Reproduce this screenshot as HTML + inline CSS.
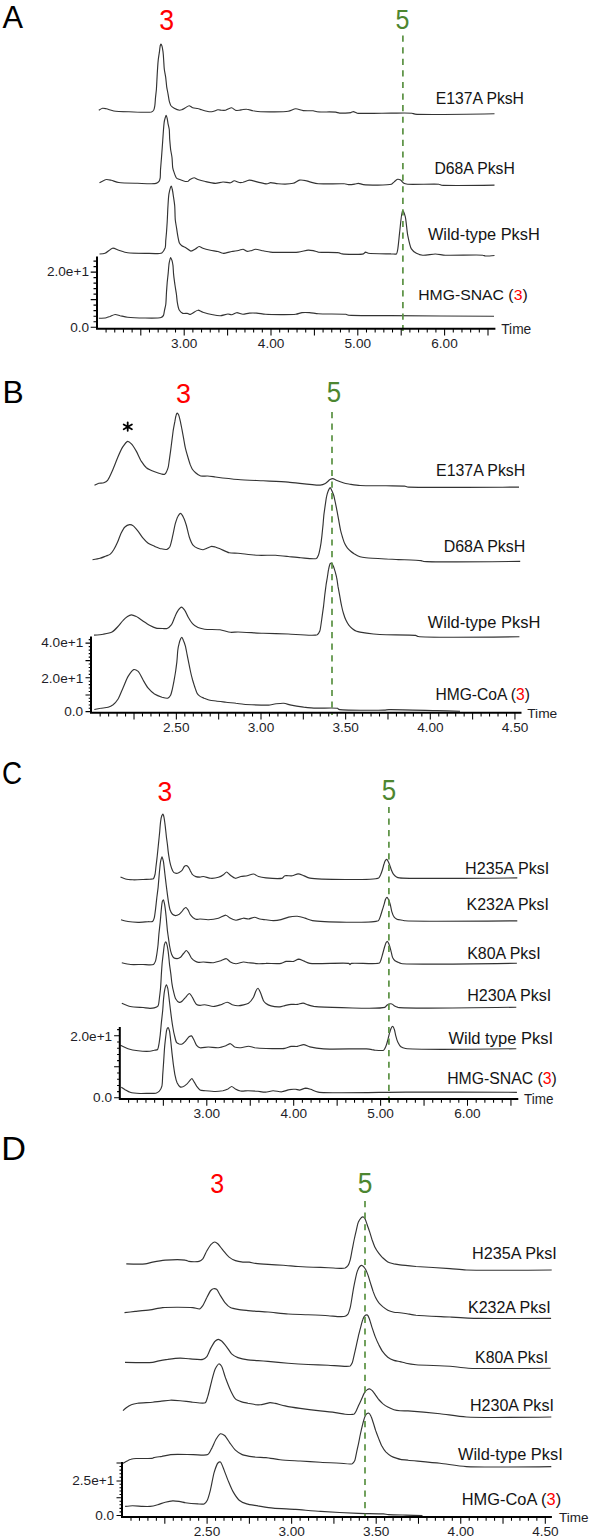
<!DOCTYPE html>
<html><head><meta charset="utf-8"><style>
html,body{margin:0;padding:0;background:#fff;}
body{width:590px;height:1538px;overflow:hidden;}
svg{display:block;font-family:"Liberation Sans",sans-serif;}
</style></head><body>
<svg width="590" height="1538" viewBox="0 0 590 1538">
<path d="M98.8 110.3C98.8 110.3 101.6 108.5 102.5 108.3C103.4 108.1 105.3 108.6 106.3 108.8C107.8 109.1 111.7 110.6 113.8 111.0C116.7 111.5 125.0 111.7 128.9 111.8C133.6 111.9 149.0 112.8 151.4 112.0C152.2 111.7 153.1 111.0 153.5 110.5C154.0 109.8 154.6 107.1 154.8 105.8C155.1 104.2 155.3 99.6 155.5 97.7C155.7 95.8 156.2 91.7 156.4 89.5C156.6 86.5 157.0 78.0 157.2 74.6C157.4 71.2 157.9 63.3 158.2 60.4C158.4 58.2 159.1 54.0 159.4 52.2C159.6 50.6 160.0 46.5 160.3 45.5C160.4 45.0 160.7 44.1 160.9 44.1C161.1 44.1 161.8 45.5 162.0 46.1C162.3 47.0 162.8 50.2 163.0 51.6C163.2 53.2 163.5 57.1 163.6 59.0C163.8 61.2 164.0 67.0 164.3 69.2C164.5 71.2 165.4 75.3 165.7 77.3C166.0 79.4 166.4 84.7 166.7 86.8C167.0 88.7 167.8 92.6 168.1 94.3C168.4 96.0 169.0 100.3 169.4 101.7C169.7 102.7 170.3 104.8 170.8 105.5C171.4 106.3 173.3 107.7 174.2 108.2C175.3 108.8 178.6 110.1 179.6 110.2C180.2 110.2 181.1 110.0 181.6 109.8C182.3 109.5 184.4 108.3 185.3 107.8C186.2 107.3 188.2 105.7 189.1 105.7C190.0 105.7 191.8 107.5 192.8 107.8C193.9 108.2 196.8 108.2 197.9 108.5C198.8 108.7 200.6 109.5 201.6 109.8C202.9 110.2 206.5 111.3 207.9 111.5C209.1 111.7 211.7 111.7 212.9 111.5C214.1 111.3 216.8 109.9 217.9 109.8C218.8 109.7 220.8 110.2 221.7 110.3C222.6 110.4 224.7 110.5 225.5 110.3C226.2 110.1 227.3 109.3 228.0 109.0C228.8 108.7 230.9 107.7 231.7 107.8C232.6 107.9 234.6 110.0 235.5 110.3C236.4 110.6 238.4 110.4 239.3 110.3C240.2 110.2 242.1 109.6 243.0 109.5C243.9 109.4 245.8 109.2 246.8 109.3C248.1 109.4 251.5 110.5 253.0 110.8C254.7 111.1 258.3 111.7 260.6 111.8C265.0 112.0 283.8 112.1 288.2 111.3C290.5 110.9 293.9 108.9 295.7 108.8C297.4 108.7 301.3 110.4 303.2 110.6C305.4 110.9 311.4 110.6 313.2 110.8C314.3 111.0 315.8 111.6 317.0 111.8C319.7 112.2 333.1 111.7 335.8 112.1C337.0 112.3 338.5 113.0 339.6 113.1C341.5 113.3 349.2 113.0 350.9 112.6C351.7 112.4 352.8 111.6 353.4 111.6C354.2 111.6 355.8 112.8 357.1 113.1C361.0 113.9 384.0 113.1 391.0 113.1C396.5 113.1 409.3 112.8 412.0 113.2C413.0 113.4 413.8 113.9 415.0 114.1C421.0 115.0 494.5 113.8 494.5 113.8" fill="none" stroke="#333333" stroke-width="1.15" stroke-linejoin="round"/>
<path d="M99.5 182.8C99.5 182.8 104.8 179.7 106.3 179.5C107.5 179.3 110.0 180.0 111.3 180.3C112.9 180.7 116.6 182.1 118.8 182.5C122.2 183.1 133.2 183.2 137.6 183.3C141.9 183.4 153.7 184.2 156.1 183.4C157.2 183.1 158.7 181.9 159.2 181.2C159.7 180.6 160.0 178.8 160.2 177.8C160.4 176.3 160.4 171.8 160.5 169.7C160.7 167.1 161.3 160.2 161.5 157.5C161.7 155.1 162.0 150.4 162.2 148.0C162.4 145.0 163.0 136.9 163.2 133.7C163.4 130.9 163.9 124.3 164.2 122.2C164.4 120.9 165.0 118.4 165.3 117.5C165.5 116.9 165.9 115.3 166.1 115.3C166.3 115.3 166.9 117.3 167.1 118.1C167.4 119.2 167.8 122.3 168.0 123.6C168.3 125.0 169.1 128.1 169.3 129.7C169.5 131.7 169.5 136.9 169.7 139.2C169.9 141.6 170.4 147.7 170.7 150.0C171.0 151.9 171.8 155.6 172.0 157.5C172.3 159.7 172.4 165.7 172.7 167.6C172.9 168.9 173.7 171.3 174.1 172.4C174.5 173.6 175.6 176.8 176.1 177.5C176.3 177.9 176.8 178.3 177.1 178.5C177.6 178.8 179.6 179.5 180.5 179.8C181.5 180.2 184.3 181.4 185.3 181.5C186.0 181.6 187.4 181.4 188.0 181.2C188.5 181.0 189.4 179.9 190.0 179.5C190.8 179.0 193.2 177.7 194.1 177.7C195.0 177.7 196.8 179.1 197.9 179.5C199.3 180.0 203.5 181.1 205.4 181.5C207.6 182.0 213.2 183.3 215.4 183.3C217.3 183.3 221.2 182.1 223.0 182.0C224.8 181.9 229.1 183.1 230.5 182.8C231.6 182.6 233.2 180.9 234.2 180.8C235.3 180.7 238.2 182.4 239.3 182.5C240.2 182.6 242.0 182.5 243.0 182.3C244.3 182.0 247.7 180.2 249.3 180.1C251.2 180.0 256.0 181.7 258.0 182.1C260.0 182.5 265.2 183.9 266.8 183.8C267.9 183.7 269.6 182.7 270.6 182.6C272.0 182.5 276.0 183.7 278.1 183.8C281.0 184.0 290.5 184.0 293.2 183.3C295.0 182.8 297.9 180.4 299.4 180.1C300.8 179.8 304.3 180.3 305.7 180.6C306.9 180.8 309.4 181.8 310.7 182.1C312.3 182.5 316.0 183.5 318.3 183.8C322.6 184.3 341.2 183.4 344.6 183.8C345.9 183.9 347.4 184.5 348.4 184.6C349.7 184.7 353.3 184.3 354.6 184.1C355.6 184.0 357.5 183.3 358.4 183.3C359.5 183.3 361.7 184.4 363.4 184.6C367.3 185.1 388.5 185.4 391.4 184.3C392.4 183.9 393.2 182.6 393.9 182.1C394.7 181.5 396.7 179.5 397.6 179.3C398.3 179.2 399.9 179.7 400.6 180.1C401.4 180.6 403.0 182.8 403.9 183.3C404.7 183.8 406.4 184.1 407.7 184.3C411.5 184.8 435.8 183.8 439.0 184.3C439.9 184.4 440.5 184.9 441.5 185.1C445.9 185.8 494.5 185.1 494.5 185.1" fill="none" stroke="#333333" stroke-width="1.15" stroke-linejoin="round"/>
<path d="M99.5 254.0C99.5 254.0 103.7 253.8 105.0 253.3C106.7 252.7 110.9 248.4 112.6 248.2C114.1 248.0 117.2 249.7 118.8 250.2C120.7 250.8 125.2 252.4 127.6 252.8C131.0 253.3 141.2 253.3 145.2 253.3C149.1 253.3 159.5 254.2 161.8 252.9C163.2 252.1 164.7 249.1 165.2 247.8C165.7 246.4 165.6 242.7 165.7 241.0C165.9 239.1 166.3 234.3 166.5 232.2C166.7 229.9 167.0 224.6 167.2 222.0C167.4 218.9 167.7 210.4 167.9 207.1C168.1 204.0 168.5 196.6 168.9 194.2C169.2 192.5 169.9 189.1 170.3 188.1C170.5 187.5 171.1 186.1 171.3 186.1C171.6 186.1 172.1 188.6 172.3 189.5C172.6 190.7 173.1 194.0 173.3 195.6C173.6 197.7 174.5 203.2 174.7 205.8C175.0 208.8 175.0 217.1 175.3 220.0C175.5 222.3 176.4 226.7 176.7 228.8C177.0 230.9 177.7 235.8 178.1 237.6C178.4 239.0 178.9 242.1 179.4 243.1C179.8 243.9 181.1 245.3 181.8 245.8C182.5 246.3 184.6 247.0 185.5 247.5C186.7 248.2 189.7 251.0 190.9 251.1C192.0 251.2 194.4 249.6 195.4 249.0C196.3 248.5 198.2 246.6 199.1 246.5C200.0 246.4 201.8 247.8 202.9 248.2C204.3 248.7 208.6 249.8 210.4 250.2C212.1 250.6 216.3 251.1 217.9 251.5C219.2 251.8 221.6 253.2 223.0 253.3C224.7 253.4 229.7 251.9 231.7 251.5C233.5 251.2 237.8 250.5 239.3 250.2C240.3 250.0 242.2 249.2 243.0 249.3C243.9 249.4 245.9 251.1 246.8 251.3C247.6 251.4 249.6 251.0 250.5 250.8C251.6 250.6 254.2 249.4 255.5 249.3C257.1 249.2 261.3 250.5 263.1 250.8C264.9 251.1 268.3 251.9 270.6 252.1C275.0 252.5 293.4 252.6 298.2 252.1C301.1 251.8 306.3 250.2 308.2 250.1C309.6 250.0 312.0 250.4 313.2 250.6C314.4 250.8 316.7 251.8 318.3 252.1C321.4 252.6 335.5 252.1 338.3 252.6C339.6 252.8 340.8 253.7 342.1 253.9C345.0 254.4 361.1 254.8 363.4 253.9C364.2 253.6 364.9 252.2 365.4 252.1C366.0 252.0 367.3 253.1 368.4 253.3C371.2 253.9 387.5 253.8 391.0 253.9C392.7 253.9 395.6 254.5 396.4 254.0C397.1 253.5 397.3 251.4 397.6 250.2C398.2 247.6 399.1 236.9 399.6 232.6C400.2 227.7 401.6 210.7 402.6 210.6C403.1 210.5 404.7 214.5 405.2 216.3C406.1 219.4 406.9 231.1 407.7 235.1C408.4 238.6 410.0 246.7 411.4 248.9C412.3 250.4 415.1 252.5 416.4 253.2C417.7 253.9 421.0 255.0 422.7 255.2C425.1 255.5 432.5 254.0 435.3 254.0C437.8 254.0 442.2 255.0 445.3 255.2C451.3 255.6 479.3 254.6 482.9 255.2C483.8 255.3 484.6 255.9 485.4 256.0C486.8 256.2 494.5 255.5 494.5 255.5" fill="none" stroke="#333333" stroke-width="1.15" stroke-linejoin="round"/>
<path d="M98.8 318.2C98.8 318.2 104.9 318.0 106.3 317.7C107.3 317.5 109.1 316.8 110.0 316.5C111.1 316.1 113.9 314.6 115.1 314.5C116.3 314.4 118.8 315.4 120.1 315.7C121.7 316.0 125.2 317.0 127.6 317.2C132.6 317.7 157.9 318.7 161.1 317.5C162.1 317.1 163.1 316.1 163.5 315.4C164.0 314.5 164.2 311.5 164.5 310.3C164.8 308.9 165.6 305.9 165.8 304.2C166.1 301.9 166.3 294.7 166.5 292.0C166.7 289.6 167.0 284.7 167.2 282.5C167.4 280.3 168.0 275.3 168.2 273.1C168.4 270.8 168.8 264.9 169.2 262.9C169.5 261.4 170.2 257.5 170.6 257.5C170.9 257.5 171.6 259.4 171.9 260.2C172.2 261.2 172.8 264.2 173.0 265.6C173.2 267.4 173.4 272.2 173.6 274.4C173.8 276.8 174.7 282.9 175.0 285.3C175.3 287.5 176.1 292.0 176.4 294.1C176.7 296.2 177.0 300.9 177.4 302.9C177.7 304.7 178.6 309.0 179.4 310.3C180.0 311.3 181.9 313.0 182.8 313.4C183.7 313.8 186.6 313.2 187.5 313.4C188.3 313.5 189.6 314.5 190.3 314.4C191.1 314.3 193.2 312.7 194.1 312.2C195.0 311.7 196.9 310.2 197.9 310.2C199.0 310.1 201.5 311.8 202.9 312.2C204.8 312.8 210.7 314.3 212.9 314.7C214.8 315.1 218.7 315.8 220.4 315.7C222.2 315.6 226.5 314.0 228.0 314.0C229.0 314.0 230.8 314.8 231.7 314.7C232.8 314.6 235.5 312.8 236.7 312.7C238.1 312.6 241.5 314.2 243.0 314.2C244.5 314.2 247.8 313.2 249.3 313.1C251.0 313.0 255.0 313.0 256.8 313.1C258.8 313.2 262.9 314.1 265.6 314.3C270.5 314.6 291.3 314.9 295.7 314.3C297.7 314.0 300.5 312.8 302.0 312.6C303.7 312.4 307.7 312.5 309.5 312.6C311.5 312.7 315.7 313.6 318.3 313.8C322.9 314.2 342.9 313.8 345.9 314.3C346.8 314.5 347.4 314.9 348.4 315.1C352.3 315.7 378.9 315.5 391.0 315.6C409.8 315.8 494.0 316.3 494.0 316.3" fill="none" stroke="#333333" stroke-width="1.15" stroke-linejoin="round"/>
<line x1="402.9" y1="35.6" x2="402.9" y2="331.0" stroke="#5a9142" stroke-width="1.7" stroke-dasharray="6.2 5.38"/>
<path d="M106.08 328.8V332.6M114.76 328.8V332.6M123.44 328.8V332.6M132.12 328.8V332.6M140.80 328.8V335.6M149.48 328.8V332.6M158.16 328.8V332.6M166.84 328.8V332.6M175.52 328.8V332.6M184.20 328.8V335.6M192.88 328.8V332.6M201.56 328.8V332.6M210.24 328.8V332.6M218.92 328.8V332.6M227.60 328.8V335.6M236.28 328.8V332.6M244.96 328.8V332.6M253.64 328.8V332.6M262.32 328.8V332.6M271.00 328.8V335.6M279.68 328.8V332.6M288.36 328.8V332.6M297.04 328.8V332.6M305.72 328.8V332.6M314.40 328.8V335.6M323.08 328.8V332.6M331.76 328.8V332.6M340.44 328.8V332.6M349.12 328.8V332.6M357.80 328.8V335.6M366.48 328.8V332.6M375.16 328.8V332.6M383.84 328.8V332.6M392.52 328.8V332.6M401.20 328.8V335.6M409.88 328.8V332.6M418.56 328.8V332.6M427.24 328.8V332.6M435.92 328.8V332.6M444.60 328.8V335.6M453.28 328.8V332.6M461.96 328.8V332.6M470.64 328.8V332.6M479.32 328.8V332.6M488.00 328.8V335.6M97.0 272.10H90.7M97.0 299.60H90.7M97.0 327.20H90.7M97.0 277.60H93.5M97.0 283.10H93.5M97.0 288.60H93.5M97.0 294.10H93.5M97.0 305.12H93.5M97.0 310.64H93.5M97.0 316.16H93.5M97.0 321.68H93.5M97.0 266.60H93.5M97.0 261.10H93.5" stroke="#000" stroke-width="1.05" fill="none"/>
<path d="M97.0 256.5V328.8H495.4" stroke="#000" stroke-width="2.00" fill="none"/>
<text x="46.93" y="276.25" font-size="13.62" fill="#1e1e28" textLength="42.04" lengthAdjust="spacingAndGlyphs">2.0e+1</text>
<text x="70.18" y="331.75" font-size="13.62" fill="#1e1e28" textLength="18.93" lengthAdjust="spacingAndGlyphs">0.0</text>
<text x="170.95" y="348.15" font-size="13.62" fill="#1e1e28" textLength="26.51" lengthAdjust="spacingAndGlyphs">3.00</text>
<text x="257.86" y="348.15" font-size="13.62" fill="#1e1e28" textLength="26.51" lengthAdjust="spacingAndGlyphs">4.00</text>
<text x="344.54" y="348.15" font-size="13.62" fill="#1e1e28" textLength="26.51" lengthAdjust="spacingAndGlyphs">5.00</text>
<text x="431.27" y="348.15" font-size="13.62" fill="#1e1e28" textLength="26.51" lengthAdjust="spacingAndGlyphs">6.00</text>
<text x="501.19" y="333.80" font-size="13.93" fill="#1e1e28" textLength="30.10" lengthAdjust="spacingAndGlyphs">Time</text>
<text x="2.42" y="28.00" font-size="31.85" fill="#000" textLength="20.54" lengthAdjust="spacingAndGlyphs">A</text>
<text x="159.20" y="29.60" font-size="28.67" fill="#ff0000" textLength="14.87" lengthAdjust="spacingAndGlyphs">3</text>
<text x="395.50" y="29.20" font-size="28.51" fill="#4d8630" textLength="13.93" lengthAdjust="spacingAndGlyphs">5</text>
<text x="435.70" y="104.20" font-size="16.14" fill="#141414" textLength="88.28" lengthAdjust="spacingAndGlyphs">E137A PksH</text>
<text x="434.40" y="174.00" font-size="16.14" fill="#141414" textLength="80.41" lengthAdjust="spacingAndGlyphs">D68A PksH</text>
<text x="427.92" y="240.00" font-size="15.59" fill="#141414" textLength="111.83" lengthAdjust="spacingAndGlyphs">Wild-type PksH</text>
<text x="418.20" y="300.30" font-size="15.17" fill="#141414" textLength="109.48" lengthAdjust="spacingAndGlyphs">HMG-SNAC (<tspan fill="#ff0000">3</tspan>)</text>
<path d="M94.5 485.3C94.5 485.3 97.7 483.6 98.8 483.3C99.9 483.0 102.8 483.2 103.8 482.8C104.8 482.4 106.8 481.2 107.6 480.3C108.9 478.8 111.5 472.7 112.6 470.2C113.8 467.5 116.4 460.5 117.6 457.7C118.7 455.1 121.3 449.1 122.6 447.1C123.7 445.5 126.4 441.6 127.6 441.4C128.5 441.3 130.5 443.0 131.4 443.9C132.6 445.1 135.3 449.5 136.4 451.4C137.6 453.5 140.1 459.4 141.4 461.4C142.5 463.1 145.0 466.5 146.4 467.7C147.9 468.9 152.2 470.8 154.0 471.5C155.7 472.2 160.1 473.7 161.5 474.0C162.4 474.2 164.0 474.7 164.7 474.3C165.7 473.8 167.6 469.3 168.1 467.7C168.6 466.0 169.0 462.0 169.3 460.1C169.6 458.0 170.3 453.0 170.6 450.8C170.9 448.5 171.6 442.9 171.9 440.6C172.2 438.4 172.8 433.5 173.1 431.3C173.4 429.1 174.4 423.9 174.8 421.9C175.1 420.2 175.7 416.3 176.1 415.2C176.3 414.6 176.9 413.1 177.2 413.1C177.5 413.1 178.3 414.2 178.6 414.7C179.1 415.7 179.9 419.5 180.3 421.1C180.7 422.9 181.6 427.6 182.0 429.6C182.4 431.7 183.3 436.7 183.7 438.9C184.1 441.1 184.9 446.0 185.4 448.2C185.9 450.4 187.4 455.5 188.0 457.5C188.5 459.2 189.6 462.9 190.1 464.3C190.6 465.5 191.6 468.0 192.2 469.0C192.8 470.0 194.7 472.0 195.6 472.8C196.6 473.7 199.4 475.6 200.7 476.0C202.1 476.4 205.9 475.9 207.5 476.0C209.3 476.1 213.1 476.7 215.4 477.0C219.3 477.5 232.6 479.1 238.0 479.5C243.7 480.0 257.2 480.5 263.1 480.8C269.0 481.1 282.0 481.6 288.2 482.1C295.2 482.6 316.0 485.6 320.2 485.1C321.9 484.9 324.2 484.0 325.3 483.4C326.5 482.8 329.0 480.2 330.0 479.6C330.7 479.2 332.1 478.6 332.8 478.6C333.6 478.6 335.3 479.8 336.3 480.2C337.7 480.8 342.2 482.5 343.9 483.0C345.3 483.4 348.2 483.9 349.8 484.2C351.9 484.5 357.1 485.3 360.0 485.5C364.7 485.8 380.4 485.7 386.0 485.8C390.7 485.9 402.5 485.7 404.8 486.1C405.7 486.2 406.3 486.7 407.3 486.9C414.1 488.0 519.0 487.1 519.0 487.1" fill="none" stroke="#333333" stroke-width="1.15" stroke-linejoin="round"/>
<path d="M92.5 559.8C92.5 559.8 98.4 558.8 100.0 558.3C101.5 557.9 104.7 556.5 106.0 556.0C107.0 555.6 109.2 555.0 110.0 554.4C111.0 553.7 112.9 551.0 113.7 549.7C114.7 548.2 116.7 544.1 117.5 542.3C118.4 540.3 120.2 534.9 121.2 533.0C122.0 531.4 123.8 528.0 124.9 527.0C125.8 526.1 128.6 524.7 129.6 524.6C130.5 524.5 132.5 525.3 133.3 525.9C134.4 526.7 136.9 529.8 138.0 531.1C139.1 532.5 141.4 536.2 142.6 537.6C143.8 539.0 146.8 542.2 148.2 543.2C149.6 544.2 153.2 545.7 154.7 546.4C156.2 547.0 159.8 548.5 161.3 548.8C162.6 549.1 165.9 549.7 166.9 549.4C167.7 549.1 169.1 547.9 169.7 547.0C170.6 545.5 171.9 539.3 172.5 536.7C173.2 533.8 174.6 526.2 175.3 523.6C175.9 521.6 177.2 517.5 178.0 516.2C178.5 515.3 179.9 513.4 180.5 513.4C181.2 513.4 183.0 516.5 183.6 517.7C184.4 519.2 185.8 523.5 186.4 525.5C187.1 527.9 188.4 534.3 189.2 536.7C189.9 538.8 191.8 543.7 193.0 545.1C193.9 546.2 196.4 547.8 197.6 548.3C198.8 548.8 202.0 549.8 203.2 549.7C204.2 549.6 206.0 548.7 206.9 548.3C207.9 547.9 210.6 546.5 211.6 546.4C212.5 546.3 214.4 546.8 215.3 547.0C216.3 547.3 218.7 548.3 220.0 548.8C221.8 549.5 227.0 552.3 229.2 552.8C231.2 553.3 235.5 553.1 238.0 553.3C241.7 553.6 253.6 555.1 258.1 555.3C262.3 555.5 271.9 555.1 275.6 555.3C278.8 555.5 285.3 556.2 288.2 556.5C291.1 556.8 297.6 557.6 300.7 557.8C304.2 558.0 314.5 559.4 316.4 558.4C317.3 557.9 318.1 556.0 318.5 555.0C319.1 553.7 319.8 549.7 320.2 547.8C320.7 545.4 321.6 538.7 321.9 535.9C322.2 533.1 322.8 526.8 323.1 524.1C323.3 521.6 323.7 516.2 324.0 513.9C324.3 511.7 325.0 506.7 325.3 504.6C325.6 502.7 326.1 498.6 326.5 496.9C326.8 495.4 327.7 492.2 328.2 491.0C328.6 490.1 329.8 487.6 330.2 487.6C330.6 487.6 331.6 490.1 332.0 491.0C332.4 491.9 333.3 494.1 333.7 495.3C334.2 496.8 335.0 501.1 335.4 502.9C335.8 504.8 336.7 509.4 337.1 511.4C337.5 513.5 338.4 518.5 338.8 520.7C339.2 522.9 340.0 527.9 340.5 530.0C340.9 531.9 342.1 535.9 342.6 537.6C343.1 539.1 344.1 542.4 344.7 543.6C345.2 544.7 346.6 546.9 347.3 547.8C348.0 548.7 349.9 550.5 350.7 551.2C351.5 551.9 353.2 553.1 354.1 553.7C355.3 554.4 358.6 556.2 360.0 556.7C361.4 557.2 364.2 557.6 366.0 557.8C369.3 558.2 381.9 558.8 386.0 559.0C389.3 559.2 395.2 559.4 398.5 559.6C403.0 559.8 418.5 560.1 421.1 560.6C422.0 560.8 422.6 561.2 423.6 561.4C429.8 562.4 520.2 561.4 520.2 561.4" fill="none" stroke="#333333" stroke-width="1.15" stroke-linejoin="round"/>
<path d="M94.0 635.1C94.0 635.1 101.1 634.6 103.2 634.2C105.3 633.8 110.3 632.9 112.0 632.0C113.6 631.2 116.3 628.3 117.5 627.0C118.9 625.6 121.8 621.6 123.1 620.3C124.1 619.2 126.4 617.1 127.5 616.4C128.4 615.8 130.4 614.8 131.4 614.8C132.5 614.8 135.1 616.0 136.3 616.6C137.8 617.3 141.4 620.0 142.9 621.0C144.4 622.0 147.9 624.4 149.5 625.2C151.0 626.0 154.5 627.7 156.1 628.1C157.6 628.5 161.3 628.5 162.7 628.5C163.8 628.5 166.1 628.9 167.1 628.5C168.2 628.1 170.6 625.9 171.5 624.7C172.5 623.3 174.0 618.7 174.8 617.0C175.5 615.4 177.2 611.6 178.1 610.4C178.8 609.4 180.7 607.1 181.5 607.1C182.3 607.1 184.1 609.4 184.8 610.4C185.7 611.6 187.2 615.5 188.1 617.0C189.0 618.6 191.3 622.3 192.5 623.6C193.6 624.8 196.6 626.9 198.0 627.6C199.4 628.3 202.7 628.9 204.6 629.2C207.4 629.6 216.8 629.4 220.0 629.8C222.7 630.2 228.2 632.1 230.5 632.3C232.4 632.5 235.7 632.0 238.0 632.0C242.1 632.0 257.2 633.1 263.1 633.3C269.0 633.5 282.1 633.8 288.2 634.0C294.7 634.2 314.2 636.2 317.2 634.7C318.3 634.1 319.3 632.3 319.7 631.3C320.3 630.0 320.7 626.2 321.0 624.5C321.3 622.5 322.0 617.4 322.3 615.2C322.6 613.0 323.3 608.1 323.6 605.8C323.9 603.3 324.5 597.3 324.8 594.8C325.1 592.4 325.8 586.9 326.1 584.7C326.4 582.8 327.1 578.8 327.4 577.0C327.7 575.2 328.2 571.1 328.6 569.4C328.9 567.9 329.7 564.1 330.3 563.5C330.6 563.2 331.3 563.0 331.6 563.1C332.0 563.3 332.9 565.2 333.3 566.0C333.8 567.0 334.6 569.8 335.0 571.1C335.4 572.6 336.4 576.2 336.7 577.9C337.1 579.8 337.7 584.4 338.0 586.4C338.4 588.5 339.3 593.5 339.7 595.7C340.1 597.9 340.9 602.9 341.4 605.0C341.8 607.0 342.9 611.6 343.5 613.5C344.0 615.2 345.3 618.9 346.0 620.3C346.6 621.6 348.2 624.3 349.0 625.3C349.7 626.2 351.5 628.0 352.4 628.7C353.3 629.4 355.6 630.9 356.6 631.3C357.4 631.6 358.9 631.9 360.0 632.1C362.1 632.5 370.4 633.7 373.5 634.0C376.5 634.3 382.5 634.7 386.0 634.8C391.4 635.0 412.4 634.7 415.6 635.4C416.6 635.6 417.2 636.3 418.3 636.5C424.9 637.8 519.4 636.8 519.4 636.8" fill="none" stroke="#333333" stroke-width="1.15" stroke-linejoin="round"/>
<path d="M94.3 709.5C94.3 709.5 99.0 708.5 100.5 708.3C102.2 708.0 106.5 707.8 108.1 707.3C109.4 706.9 112.0 705.6 113.1 704.8C114.4 703.8 117.0 700.7 118.1 699.0C119.4 696.9 121.9 690.3 123.1 687.7C124.3 685.1 126.7 678.6 128.1 676.4C129.3 674.5 132.3 670.0 133.7 669.6C134.7 669.3 137.2 670.6 138.2 671.4C139.6 672.6 142.0 678.2 143.2 680.2C144.3 682.1 146.8 686.6 148.2 688.2C149.5 689.8 152.9 692.9 154.5 694.0C156.1 695.0 160.4 696.7 162.0 697.2C163.4 697.6 166.6 698.5 167.6 698.2C168.5 697.9 170.1 696.2 170.6 695.3C171.2 694.2 171.9 690.8 172.3 689.3C172.7 687.5 173.6 682.9 174.0 680.8C174.4 678.5 175.4 673.0 175.7 670.7C176.0 668.5 176.7 663.7 176.9 661.4C177.2 658.9 177.5 652.6 177.8 650.3C178.0 648.5 178.7 645.0 179.1 643.6C179.4 642.3 180.4 639.3 180.8 638.5C181.0 638.1 181.7 637.2 181.9 637.2C182.2 637.2 183.0 639.4 183.3 640.2C183.8 641.3 185.0 644.6 185.4 646.1C185.9 647.9 186.7 652.6 187.1 654.6C187.5 656.6 188.4 661.1 188.8 663.1C189.2 665.1 190.1 669.5 190.5 671.5C190.9 673.5 192.1 678.1 192.6 680.0C193.1 681.7 194.2 685.2 194.7 686.8C195.3 688.4 196.6 692.5 197.3 693.6C197.8 694.4 199.1 695.6 199.8 696.1C200.6 696.7 203.0 697.7 204.1 698.2C205.4 698.7 208.6 700.0 210.0 700.3C211.4 700.6 214.4 700.8 216.0 701.0C218.0 701.3 223.7 702.0 226.0 702.3C228.3 702.6 233.8 703.0 236.0 703.3C237.9 703.5 241.4 704.1 243.5 704.3C246.7 704.6 257.9 705.0 261.1 705.1C263.2 705.1 266.9 705.2 268.6 705.1C270.4 704.9 274.3 704.0 276.1 703.8C277.9 703.6 281.9 703.2 283.7 703.3C285.5 703.5 289.2 704.7 291.2 705.1C293.7 705.6 300.8 706.7 303.7 707.1C306.6 707.4 313.0 708.0 316.3 708.1C320.6 708.3 335.7 707.6 337.6 708.3C338.1 708.5 338.3 709.2 338.9 709.4C341.9 710.5 378.7 710.3 384.0 710.1C385.8 710.0 387.2 709.7 389.0 709.6C394.4 709.4 427.5 710.4 436.7 710.6C443.1 710.8 460.0 711.3 460.0 711.3" fill="none" stroke="#333333" stroke-width="1.15" stroke-linejoin="round"/>
<line x1="332.0" y1="412.0" x2="332.0" y2="715.0" stroke="#5a9142" stroke-width="1.7" stroke-dasharray="6.2 5.38"/>
<path d="M100.16 712.8V716.6M108.63 712.8V716.6M117.09 712.8V716.6M125.56 712.8V716.6M134.02 712.8V719.6M142.49 712.8V716.6M150.96 712.8V716.6M159.42 712.8V716.6M167.89 712.8V716.6M176.35 712.8V719.6M184.81 712.8V716.6M193.28 712.8V716.6M201.74 712.8V716.6M210.21 712.8V716.6M218.68 712.8V719.6M227.14 712.8V716.6M235.61 712.8V716.6M244.07 712.8V716.6M252.54 712.8V716.6M261.00 712.8V719.6M269.46 712.8V716.6M277.93 712.8V716.6M286.40 712.8V716.6M294.86 712.8V716.6M303.32 712.8V719.6M311.79 712.8V716.6M320.25 712.8V716.6M328.72 712.8V716.6M337.19 712.8V716.6M345.65 712.8V719.6M354.12 712.8V716.6M362.58 712.8V716.6M371.05 712.8V716.6M379.51 712.8V716.6M387.98 712.8V719.6M396.44 712.8V716.6M404.91 712.8V716.6M413.37 712.8V716.6M421.84 712.8V716.6M430.30 712.8V719.6M438.77 712.8V716.6M447.23 712.8V716.6M455.70 712.8V716.6M464.16 712.8V716.6M472.62 712.8V719.6M481.09 712.8V716.6M489.55 712.8V716.6M498.02 712.8V716.6M506.49 712.8V716.6M514.95 712.8V719.6M91.0 643.10H85.5M91.0 660.60H85.5M91.0 677.80H85.5M91.0 694.90H85.5M91.0 711.60H85.5M91.0 646.60H88.7M91.0 650.10H88.7M91.0 653.60H88.7M91.0 657.10H88.7M91.0 664.04H88.7M91.0 667.48H88.7M91.0 670.92H88.7M91.0 674.36H88.7M91.0 681.22H88.7M91.0 684.64H88.7M91.0 688.06H88.7M91.0 691.48H88.7M91.0 698.24H88.7M91.0 701.58H88.7M91.0 704.92H88.7M91.0 708.26H88.7M91.0 639.60H88.7" stroke="#000" stroke-width="1.05" fill="none"/>
<path d="M91.0 636.5V712.8H521.5" stroke="#000" stroke-width="2.00" fill="none"/>
<text x="41.23" y="647.45" font-size="13.62" fill="#1e1e28" textLength="42.04" lengthAdjust="spacingAndGlyphs">4.0e+1</text>
<text x="41.23" y="682.65" font-size="13.62" fill="#1e1e28" textLength="42.04" lengthAdjust="spacingAndGlyphs">2.0e+1</text>
<text x="64.28" y="716.25" font-size="13.62" fill="#1e1e28" textLength="18.93" lengthAdjust="spacingAndGlyphs">0.0</text>
<text x="163.02" y="731.55" font-size="13.62" fill="#1e1e28" textLength="26.51" lengthAdjust="spacingAndGlyphs">2.50</text>
<text x="247.75" y="731.55" font-size="13.62" fill="#1e1e28" textLength="26.51" lengthAdjust="spacingAndGlyphs">3.00</text>
<text x="332.40" y="731.55" font-size="13.62" fill="#1e1e28" textLength="26.51" lengthAdjust="spacingAndGlyphs">3.50</text>
<text x="417.16" y="731.55" font-size="13.62" fill="#1e1e28" textLength="26.51" lengthAdjust="spacingAndGlyphs">4.00</text>
<text x="501.81" y="731.55" font-size="13.62" fill="#1e1e28" textLength="26.51" lengthAdjust="spacingAndGlyphs">4.50</text>
<text x="527.19" y="717.80" font-size="13.52" fill="#1e1e28" textLength="30.10" lengthAdjust="spacingAndGlyphs">Time</text>
<text x="2.48" y="402.90" font-size="30.55" fill="#000" textLength="21.17" lengthAdjust="spacingAndGlyphs">B</text>
<text x="175.99" y="402.80" font-size="28.39" fill="#ff0000" textLength="14.99" lengthAdjust="spacingAndGlyphs">3</text>
<text x="326.76" y="402.00" font-size="28.65" fill="#4d8630" textLength="14.40" lengthAdjust="spacingAndGlyphs">5</text>
<text x="436.09" y="476.30" font-size="15.59" fill="#141414" textLength="89.21" lengthAdjust="spacingAndGlyphs">E137A PksH</text>
<text x="443.68" y="551.80" font-size="15.59" fill="#141414" textLength="81.65" lengthAdjust="spacingAndGlyphs">D68A PksH</text>
<text x="427.72" y="627.90" font-size="16.00" fill="#141414" textLength="112.64" lengthAdjust="spacingAndGlyphs">Wild-type PksH</text>
<text x="435.41" y="700.10" font-size="15.59" fill="#141414" textLength="94.58" lengthAdjust="spacingAndGlyphs">HMG-CoA (<tspan fill="#ff0000">3</tspan>)</text>
<path d="M120.5 877.0C120.5 877.0 124.2 878.7 125.5 879.0C127.0 879.4 131.1 879.7 133.0 879.8C135.2 879.9 141.0 879.6 143.1 879.5C144.9 879.4 148.7 879.3 150.0 879.2C150.9 879.1 152.8 879.3 153.4 878.8C154.1 878.2 154.8 875.3 155.1 874.1C155.4 872.7 155.7 869.1 155.9 867.3C156.2 865.0 156.9 859.0 157.2 856.3C157.5 853.4 158.2 846.5 158.5 843.6C158.8 840.8 159.4 834.4 159.7 831.7C159.9 829.2 160.3 823.6 160.6 821.6C160.8 820.0 161.5 816.5 161.9 815.6C162.1 815.1 162.7 814.1 162.9 814.1C163.2 814.1 163.8 816.3 164.0 817.3C164.4 818.9 165.0 824.3 165.3 826.6C165.6 829.1 166.2 835.3 166.5 837.7C166.8 839.8 167.4 844.1 167.6 846.1C167.8 848.1 168.3 852.7 168.6 854.6C168.9 856.4 169.5 860.5 169.9 862.2C170.2 863.7 171.1 866.9 171.6 868.2C172.0 869.3 173.0 871.8 173.7 872.4C174.2 872.8 175.7 873.3 176.3 873.3C177.0 873.3 178.6 872.7 179.2 872.4C179.8 872.1 181.3 871.3 181.8 870.7C182.5 870.0 183.7 867.1 184.3 866.5C184.7 866.1 185.8 865.5 186.3 865.5C186.8 865.6 188.2 866.8 188.6 867.3C189.1 867.9 189.9 869.9 190.3 870.7C190.8 871.6 191.7 873.8 192.4 874.5C193.0 875.2 194.9 876.3 195.8 876.6C196.7 876.9 199.1 877.1 200.0 877.1C200.8 877.1 202.4 876.5 203.3 876.5C204.7 876.5 209.0 878.2 210.8 878.3C212.6 878.4 216.8 877.8 218.4 877.3C219.7 876.9 222.4 875.4 223.4 874.7C224.3 874.1 225.8 872.0 226.6 872.0C227.4 872.0 229.4 874.5 230.4 875.2C231.5 876.0 234.2 878.2 235.4 878.3C236.6 878.4 239.6 876.8 240.9 876.5C242.3 876.2 245.7 876.0 247.2 875.7C248.7 875.4 252.1 873.9 253.5 874.0C254.8 874.1 257.2 876.1 258.5 876.5C260.0 877.0 263.9 877.7 266.0 877.9C269.1 878.2 280.2 878.9 282.3 878.1C283.2 877.7 284.0 876.1 284.8 875.8C286.0 875.3 290.7 876.1 292.3 875.8C293.8 875.6 296.8 873.8 298.1 873.8C299.4 873.8 302.3 875.1 303.6 875.6C305.0 876.1 307.6 877.7 309.9 878.1C317.3 879.5 374.0 880.4 378.6 877.9C379.6 877.3 380.1 875.8 380.5 875.0C381.0 873.9 382.1 870.8 382.5 869.5C382.9 868.2 383.6 865.2 384.0 864.0C384.3 863.0 385.2 860.6 385.6 860.1C385.9 859.8 386.5 859.3 386.8 859.4C387.2 859.5 388.0 861.1 388.3 861.7C388.7 862.5 389.5 864.6 389.9 865.6C390.3 866.6 391.1 869.3 391.5 870.3C391.9 871.3 392.8 873.4 393.4 874.2C394.0 875.0 395.7 876.5 396.5 876.9C397.2 877.3 398.3 877.7 399.6 877.9C407.2 879.1 517.3 877.9 517.3 877.9" fill="none" stroke="#333333" stroke-width="1.15" stroke-linejoin="round"/>
<path d="M121.0 919.7C121.0 919.7 126.2 921.2 128.0 921.5C130.1 921.9 135.7 922.3 138.1 922.3C140.4 922.3 146.2 921.8 148.1 921.7C149.3 921.6 151.8 922.0 152.5 921.5C153.2 921.1 153.9 919.1 154.2 918.1C154.7 916.6 155.2 911.7 155.5 909.6C155.8 907.1 156.5 900.5 156.8 897.8C157.1 895.3 157.8 890.2 158.1 887.6C158.4 884.5 159.0 876.4 159.3 873.2C159.6 870.3 160.2 863.4 160.6 861.3C160.9 860.0 161.7 856.7 162.0 856.7C162.3 856.7 163.1 860.0 163.4 861.3C163.8 863.4 164.5 870.5 164.8 873.2C165.1 875.8 165.8 881.7 166.1 884.2C166.4 886.6 167.1 892.1 167.4 894.4C167.7 896.5 168.3 900.9 168.6 902.8C168.9 904.6 169.7 909.1 170.3 910.5C170.7 911.6 171.8 913.7 172.5 914.3C173.1 914.8 174.7 915.6 175.4 915.6C176.2 915.6 178.4 914.8 179.2 914.3C179.9 913.8 181.2 912.3 181.8 911.7C182.3 911.1 183.4 909.3 183.9 908.8C184.4 908.4 185.5 907.4 186.0 907.5C186.5 907.6 187.6 909.3 188.1 910.0C188.7 910.9 189.7 913.8 190.3 914.7C190.9 915.5 192.4 917.1 193.2 917.7C193.9 918.2 195.8 919.3 196.6 919.4C197.4 919.5 199.0 919.0 200.0 919.0C201.5 919.0 206.3 919.8 208.3 919.7C210.5 919.6 216.2 918.8 218.4 918.2C220.3 917.7 224.5 915.0 225.9 915.2C227.0 915.3 228.6 917.2 229.6 917.7C230.8 918.4 234.4 920.1 235.9 920.2C237.6 920.3 241.8 918.3 243.4 918.2C244.7 918.1 247.3 919.1 248.5 919.0C249.9 918.9 253.3 917.2 254.7 917.2C255.9 917.2 258.4 918.7 259.7 919.0C261.1 919.3 264.5 919.6 266.0 919.8C267.7 920.0 271.7 920.6 273.5 920.6C275.3 920.6 279.4 920.0 281.1 919.6C282.9 919.2 286.8 917.5 288.6 917.1C290.5 916.7 295.4 916.2 297.4 916.3C299.2 916.4 303.2 917.6 304.9 918.1C306.7 918.6 309.7 920.2 312.4 920.6C320.1 921.9 373.7 923.5 378.2 920.8C379.3 920.1 379.7 918.1 380.1 917.1C380.6 915.8 381.6 912.3 382.1 910.8C382.6 909.3 383.6 906.0 384.0 904.6C384.4 903.3 385.1 900.0 385.6 899.1C385.9 898.5 386.7 897.2 387.0 897.2C387.4 897.2 388.3 899.2 388.7 899.9C389.1 900.8 390.0 903.4 390.3 904.6C390.7 906.1 391.3 910.1 391.8 911.6C392.2 913.0 393.5 916.2 394.2 917.1C394.8 917.9 396.4 919.0 397.3 919.4C398.4 919.8 401.8 920.0 402.8 920.2C403.5 920.3 404.1 920.7 405.1 920.8C411.6 921.6 517.3 920.8 517.3 920.8" fill="none" stroke="#333333" stroke-width="1.15" stroke-linejoin="round"/>
<path d="M121.8 962.7C121.8 962.7 128.3 964.3 130.5 964.5C133.2 964.8 140.6 964.4 143.1 964.5C145.0 964.6 148.7 964.9 150.0 964.9C150.9 964.9 152.8 964.9 153.4 964.5C154.1 964.1 155.1 962.1 155.5 961.1C156.0 959.8 156.5 956.0 156.8 954.3C157.1 952.2 157.9 946.6 158.1 944.2C158.3 941.8 158.7 936.5 158.9 934.0C159.2 931.3 159.9 925.0 160.2 922.1C160.5 919.1 161.1 911.3 161.4 908.6C161.6 906.5 162.1 901.9 162.5 900.9C162.7 900.5 163.2 899.7 163.4 899.7C163.7 899.8 164.3 903.0 164.6 904.3C165.0 906.4 165.8 913.3 166.1 916.2C166.4 919.4 167.1 927.7 167.4 930.6C167.7 932.8 168.3 937.1 168.6 939.1C168.9 941.1 169.5 945.7 169.9 947.5C170.2 949.2 171.1 953.0 171.6 954.3C172.0 955.3 173.0 957.2 173.7 957.7C174.3 958.2 176.3 958.6 177.1 958.6C177.9 958.6 179.8 957.8 180.5 957.3C181.3 956.7 182.8 954.3 183.5 953.5C184.2 952.7 185.8 950.5 186.4 950.5C187.0 950.5 188.4 952.7 189.0 953.5C189.6 954.4 190.8 957.2 191.5 958.1C192.2 958.9 194.1 960.6 194.9 961.1C195.7 961.6 197.4 962.3 198.3 962.4C199.3 962.5 201.9 962.0 203.3 962.0C205.2 962.0 211.1 962.9 213.3 962.7C215.2 962.5 219.3 961.2 220.9 960.7C222.3 960.3 225.3 958.5 226.4 958.7C227.5 958.9 229.3 961.4 230.4 962.0C231.5 962.6 234.5 963.6 235.9 963.7C237.5 963.8 241.8 962.1 243.4 962.0C244.7 961.9 247.1 962.5 248.5 962.7C250.4 962.9 256.3 963.6 258.5 963.7C260.4 963.8 263.9 963.4 266.0 963.4C268.9 963.3 278.6 963.9 281.1 963.4C282.6 963.1 284.8 961.7 286.1 961.4C287.6 961.1 292.1 961.7 293.6 961.4C294.9 961.1 297.4 959.2 298.6 959.1C299.8 959.1 302.4 960.4 303.6 960.9C305.0 961.4 307.7 963.0 309.9 963.4C315.1 964.4 346.1 962.3 348.8 963.4C349.4 963.6 349.7 964.6 350.0 964.6C350.3 964.6 350.7 963.6 351.3 963.4C353.6 962.5 377.0 964.6 379.4 963.1C380.3 962.6 380.6 960.8 380.9 960.0C381.3 958.9 382.1 955.9 382.5 954.5C382.9 953.0 384.0 949.0 384.4 947.5C384.8 946.3 385.6 943.6 386.0 942.8C386.3 942.3 387.0 941.3 387.3 941.3C387.6 941.3 388.4 942.9 388.7 943.6C389.2 944.7 390.3 948.3 390.7 949.8C391.2 951.5 392.0 956.2 392.6 957.6C393.1 958.6 394.3 960.2 395.0 960.8C395.6 961.3 397.4 962.0 398.1 962.3C398.8 962.6 399.9 963.3 401.2 963.5C408.8 964.9 516.9 963.2 516.9 963.2" fill="none" stroke="#333333" stroke-width="1.15" stroke-linejoin="round"/>
<path d="M121.8 1003.2C121.8 1003.2 128.2 1006.0 130.5 1006.5C133.1 1007.1 140.6 1007.3 143.1 1007.5C145.0 1007.7 148.6 1008.3 150.0 1008.3C151.1 1008.3 153.3 1008.2 154.2 1007.9C155.2 1007.6 157.5 1006.6 158.1 1005.8C158.9 1004.8 159.0 1000.8 159.3 999.0C159.6 996.6 160.4 990.1 160.6 987.2C160.9 984.1 161.2 976.7 161.4 973.6C161.6 970.7 162.0 964.4 162.3 961.7C162.6 959.1 163.3 953.0 163.6 950.7C163.8 948.9 164.2 945.0 164.6 943.9C164.8 943.2 165.4 941.8 165.7 941.8C166.0 941.8 166.7 943.6 166.9 944.4C167.3 945.6 167.9 949.7 168.2 951.6C168.6 954.1 169.2 961.6 169.5 964.3C169.8 966.6 170.5 971.4 170.8 973.6C171.1 975.9 171.6 981.5 172.0 983.8C172.3 985.9 173.2 990.4 173.7 992.2C174.1 993.9 175.0 997.8 175.8 999.0C176.4 1000.0 178.4 1002.3 179.2 1002.4C180.0 1002.5 181.9 1001.3 182.6 1000.7C183.4 1000.1 184.8 998.1 185.6 997.3C186.4 996.4 188.6 993.5 189.4 993.5C190.1 993.5 191.4 995.7 191.9 996.5C192.5 997.4 193.5 999.8 194.1 1000.7C194.6 1001.6 195.8 1004.0 196.6 1004.5C197.3 1005.0 199.1 1005.4 200.0 1005.4C201.0 1005.5 203.4 1004.7 204.6 1004.7C206.3 1004.7 211.3 1006.5 213.3 1006.5C215.1 1006.5 219.2 1005.2 220.9 1004.7C222.4 1004.2 225.7 1002.2 227.1 1002.2C228.4 1002.2 230.9 1004.3 232.2 1004.7C233.5 1005.1 236.8 1005.8 238.4 1005.7C240.5 1005.6 246.7 1004.3 248.5 1003.2C250.1 1002.2 252.6 998.7 253.5 997.2C254.3 995.8 255.4 991.8 256.0 990.7C256.4 989.9 257.5 988.2 258.0 988.2C258.6 988.2 259.9 991.5 260.5 992.7C261.2 994.3 262.7 999.4 263.5 1000.7C264.0 1001.6 265.2 1002.9 266.0 1003.5C266.9 1004.2 269.6 1005.5 271.0 1005.9C272.7 1006.4 278.0 1007.0 279.8 1006.9C281.1 1006.8 283.6 1005.9 284.8 1005.6C286.2 1005.3 289.6 1004.5 291.1 1004.4C292.6 1004.3 296.0 1004.6 297.4 1004.4C298.8 1004.2 301.9 1003.0 303.1 1003.1C304.2 1003.2 306.3 1004.2 307.4 1004.6C308.7 1005.0 312.3 1006.1 313.7 1006.4C314.9 1006.6 316.9 1006.8 318.7 1006.9C325.4 1007.3 380.2 1009.3 384.8 1007.4C385.8 1007.0 386.4 1005.7 386.9 1005.3C387.4 1004.9 388.5 1004.2 389.1 1004.0C389.7 1003.8 391.4 1003.8 392.0 1004.0C392.7 1004.2 393.9 1005.7 394.6 1006.1C395.3 1006.5 396.6 1007.1 398.0 1007.4C406.0 1008.9 516.3 1007.2 516.3 1007.2" fill="none" stroke="#333333" stroke-width="1.15" stroke-linejoin="round"/>
<path d="M120.5 1045.2C120.5 1045.2 126.1 1048.1 128.0 1048.7C130.1 1049.4 135.6 1050.5 138.1 1050.8C140.7 1051.1 147.9 1051.4 150.0 1051.2C151.2 1051.1 153.3 1050.5 154.2 1050.3C155.0 1050.1 157.1 1050.0 157.6 1049.5C158.3 1048.8 158.6 1045.8 158.9 1044.4C159.3 1042.6 159.9 1037.4 160.2 1035.1C160.5 1032.4 161.1 1025.3 161.4 1022.4C161.7 1019.6 162.4 1013.3 162.7 1010.5C163.0 1007.7 163.3 1001.2 163.6 998.6C163.8 996.3 164.4 991.1 164.8 989.3C165.1 988.0 166.1 984.7 166.5 984.7C166.8 984.7 167.5 987.4 167.8 988.5C168.2 990.3 168.8 996.2 169.1 998.6C169.4 1001.0 170.0 1006.4 170.3 1008.8C170.6 1011.2 171.3 1016.7 171.6 1019.0C171.9 1021.1 172.5 1025.5 172.9 1027.5C173.2 1029.5 174.1 1034.1 174.6 1035.9C175.0 1037.6 175.9 1041.8 176.7 1042.7C177.2 1043.3 178.6 1043.8 179.2 1044.0C179.9 1044.2 181.5 1044.3 182.2 1044.0C183.0 1043.7 184.8 1041.8 185.6 1041.0C186.4 1040.1 188.2 1037.4 189.0 1036.8C189.6 1036.4 191.0 1035.7 191.5 1035.9C192.2 1036.2 193.5 1039.1 194.1 1040.2C194.7 1041.3 195.8 1044.4 196.6 1045.3C197.3 1046.1 199.0 1047.5 200.0 1047.8C201.5 1048.2 206.3 1047.0 208.3 1047.0C210.5 1047.0 216.2 1047.9 218.4 1047.7C220.3 1047.5 224.4 1046.2 225.9 1045.7C227.1 1045.3 229.4 1043.6 230.4 1043.7C231.5 1043.8 233.5 1046.5 234.7 1047.0C236.0 1047.5 239.4 1047.8 240.9 1047.7C242.6 1047.6 246.8 1046.2 248.5 1046.2C250.0 1046.2 253.0 1047.4 254.7 1047.7C256.9 1048.0 263.0 1048.4 266.0 1048.5C269.8 1048.6 281.6 1048.9 284.8 1048.4C286.7 1048.1 289.6 1046.6 291.1 1046.4C292.6 1046.2 296.0 1046.6 297.4 1046.4C298.9 1046.2 302.2 1044.6 303.6 1044.6C305.1 1044.6 308.1 1046.5 309.9 1046.9C312.5 1047.5 319.6 1048.6 323.7 1048.9C330.9 1049.4 361.1 1048.6 366.4 1048.9C368.3 1049.0 370.9 1049.4 372.0 1049.6C372.8 1049.7 374.1 1050.1 375.0 1050.2C376.5 1050.3 382.4 1050.9 383.6 1050.2C384.4 1049.7 385.3 1047.8 385.7 1046.8C386.3 1045.5 387.4 1041.6 387.8 1040.0C388.2 1038.4 389.1 1034.7 389.5 1033.2C389.9 1031.9 390.7 1029.0 391.2 1028.1C391.5 1027.5 392.4 1026.3 392.7 1026.3C393.1 1026.3 393.9 1028.2 394.2 1029.0C394.7 1030.2 395.4 1034.2 395.8 1035.8C396.2 1037.4 397.3 1041.1 398.0 1042.5C398.6 1043.7 400.0 1046.1 400.9 1046.8C401.8 1047.5 403.7 1048.2 405.6 1048.5C414.4 1050.0 516.3 1048.7 516.3 1048.7" fill="none" stroke="#333333" stroke-width="1.15" stroke-linejoin="round"/>
<path d="M121.3 1087.2C121.3 1087.2 124.1 1089.1 125.1 1089.7C126.2 1090.3 128.7 1091.9 130.1 1092.3C132.0 1092.9 137.8 1093.4 140.1 1093.5C142.4 1093.6 148.0 1093.3 150.0 1093.3C151.6 1093.3 154.7 1093.6 155.9 1093.3C156.8 1093.0 158.6 1091.9 159.3 1091.2C160.1 1090.3 161.5 1087.6 161.9 1086.1C162.5 1084.1 162.5 1077.8 162.7 1075.1C162.9 1072.2 163.4 1065.4 163.6 1062.4C163.8 1059.4 164.2 1052.7 164.4 1049.7C164.6 1046.7 165.4 1039.5 165.7 1036.9C166.0 1034.9 166.4 1030.4 166.9 1029.3C167.1 1028.7 167.9 1027.6 168.2 1027.6C168.6 1027.7 169.2 1030.0 169.5 1031.0C169.9 1032.7 170.5 1038.7 170.8 1041.2C171.1 1043.9 171.7 1050.4 172.0 1053.1C172.3 1055.7 173.0 1061.5 173.3 1064.1C173.7 1066.7 174.5 1072.8 175.0 1075.1C175.4 1077.1 176.4 1081.2 177.1 1082.7C177.7 1083.9 179.2 1086.5 180.1 1086.9C180.8 1087.2 182.7 1086.8 183.5 1086.5C184.4 1086.1 186.5 1084.3 187.3 1083.6C188.0 1082.9 189.2 1081.2 189.8 1080.6C190.3 1080.1 191.4 1078.5 191.9 1078.5C192.4 1078.6 193.6 1081.1 194.1 1081.9C194.7 1082.8 195.9 1085.2 196.6 1086.1C197.3 1087.0 199.0 1089.4 200.0 1089.9C201.0 1090.5 203.9 1090.5 205.3 1090.7C207.3 1090.9 213.2 1091.5 215.4 1091.5C217.3 1091.5 221.3 1091.0 222.9 1090.7C224.2 1090.4 226.8 1089.5 227.9 1089.0C228.9 1088.5 230.8 1086.5 231.7 1086.5C232.6 1086.5 234.4 1088.5 235.4 1089.0C236.5 1089.6 239.2 1090.8 240.5 1091.0C242.1 1091.3 246.1 1090.7 248.0 1090.7C250.2 1090.7 255.8 1091.1 258.0 1091.3C259.9 1091.5 263.7 1092.2 265.5 1092.1C267.3 1092.0 271.3 1090.9 273.1 1090.8C275.1 1090.7 279.9 1092.0 281.8 1091.8C283.6 1091.6 287.7 1089.9 289.4 1089.6C290.9 1089.3 294.3 1089.2 295.6 1089.3C296.6 1089.4 298.4 1090.1 299.4 1090.1C300.7 1090.0 304.3 1088.2 305.7 1088.1C306.9 1088.1 309.4 1088.9 310.7 1089.3C312.3 1089.8 315.4 1091.6 318.2 1092.1C327.4 1093.8 384.3 1092.1 406.0 1092.1C430.4 1092.1 516.9 1092.3 516.9 1092.3" fill="none" stroke="#333333" stroke-width="1.15" stroke-linejoin="round"/>
<line x1="388.9" y1="806.9" x2="388.9" y2="1103.0" stroke="#5a9142" stroke-width="1.7" stroke-dasharray="6.2 5.38"/>
<path d="M128.59 1098.9V1102.7M137.28 1098.9V1102.7M145.97 1098.9V1102.7M154.66 1098.9V1102.7M163.35 1098.9V1105.7M172.04 1098.9V1102.7M180.73 1098.9V1102.7M189.42 1098.9V1102.7M198.11 1098.9V1102.7M206.80 1098.9V1105.7M215.49 1098.9V1102.7M224.18 1098.9V1102.7M232.87 1098.9V1102.7M241.56 1098.9V1102.7M250.25 1098.9V1105.7M258.94 1098.9V1102.7M267.63 1098.9V1102.7M276.32 1098.9V1102.7M285.01 1098.9V1102.7M293.70 1098.9V1105.7M302.39 1098.9V1102.7M311.08 1098.9V1102.7M319.77 1098.9V1102.7M328.46 1098.9V1102.7M337.15 1098.9V1105.7M345.84 1098.9V1102.7M354.53 1098.9V1102.7M363.22 1098.9V1102.7M371.91 1098.9V1102.7M380.60 1098.9V1105.7M389.29 1098.9V1102.7M397.98 1098.9V1102.7M406.67 1098.9V1102.7M415.36 1098.9V1102.7M424.05 1098.9V1105.7M432.74 1098.9V1102.7M441.43 1098.9V1102.7M450.12 1098.9V1102.7M458.81 1098.9V1102.7M467.50 1098.9V1105.7M476.19 1098.9V1102.7M484.88 1098.9V1102.7M493.57 1098.9V1102.7M502.26 1098.9V1102.7M510.95 1098.9V1105.7M119.8 1035.80H114.1M119.8 1066.80H114.1M119.8 1097.80H114.1M119.8 1042.00H117.1M119.8 1048.20H117.1M119.8 1054.40H117.1M119.8 1060.60H117.1M119.8 1073.00H117.1M119.8 1079.20H117.1M119.8 1085.40H117.1M119.8 1091.60H117.1M119.8 1029.60H117.1" stroke="#000" stroke-width="1.05" fill="none"/>
<path d="M119.8 1027.0V1098.9H518.3" stroke="#000" stroke-width="2.00" fill="none"/>
<text x="70.13" y="1040.95" font-size="13.62" fill="#1e1e28" textLength="42.04" lengthAdjust="spacingAndGlyphs">2.0e+1</text>
<text x="93.08" y="1101.95" font-size="13.62" fill="#1e1e28" textLength="18.93" lengthAdjust="spacingAndGlyphs">0.0</text>
<text x="193.55" y="1117.55" font-size="13.62" fill="#1e1e28" textLength="26.51" lengthAdjust="spacingAndGlyphs">3.00</text>
<text x="280.56" y="1117.55" font-size="13.62" fill="#1e1e28" textLength="26.51" lengthAdjust="spacingAndGlyphs">4.00</text>
<text x="367.34" y="1117.55" font-size="13.62" fill="#1e1e28" textLength="26.51" lengthAdjust="spacingAndGlyphs">5.00</text>
<text x="454.17" y="1117.55" font-size="13.62" fill="#1e1e28" textLength="26.51" lengthAdjust="spacingAndGlyphs">6.00</text>
<text x="524.10" y="1104.10" font-size="14.07" fill="#1e1e28" textLength="29.38" lengthAdjust="spacingAndGlyphs">Time</text>
<text x="2.01" y="783.60" font-size="31.11" fill="#000" textLength="20.10" lengthAdjust="spacingAndGlyphs">C</text>
<text x="157.61" y="800.60" font-size="27.38" fill="#ff0000" textLength="14.75" lengthAdjust="spacingAndGlyphs">3</text>
<text x="381.76" y="800.40" font-size="28.80" fill="#4d8630" textLength="14.40" lengthAdjust="spacingAndGlyphs">5</text>
<text x="465.07" y="874.00" font-size="15.72" fill="#141414" textLength="84.22" lengthAdjust="spacingAndGlyphs">H235A PksI</text>
<text x="466.59" y="910.40" font-size="16.00" fill="#141414" textLength="82.29" lengthAdjust="spacingAndGlyphs">K232A PksI</text>
<text x="467.19" y="958.80" font-size="16.28" fill="#141414" textLength="73.51" lengthAdjust="spacingAndGlyphs">K80A PksI</text>
<text x="467.17" y="1001.40" font-size="16.00" fill="#141414" textLength="84.12" lengthAdjust="spacingAndGlyphs">H230A PksI</text>
<text x="448.42" y="1044.10" font-size="16.00" fill="#141414" textLength="104.61" lengthAdjust="spacingAndGlyphs">Wild type PksI</text>
<text x="447.20" y="1083.70" font-size="16.00" fill="#141414" textLength="109.68" lengthAdjust="spacingAndGlyphs">HMG-SNAC (<tspan fill="#ff0000">3</tspan>)</text>
<path d="M126.3 1263.9C126.3 1263.9 141.7 1264.3 145.1 1263.9C147.3 1263.6 150.6 1262.5 152.6 1262.1C155.2 1261.6 161.9 1260.4 165.2 1260.1C169.3 1259.8 182.4 1259.6 185.2 1260.1C186.5 1260.3 187.9 1261.2 189.0 1261.4C190.8 1261.7 197.3 1261.9 199.0 1261.4C200.2 1261.1 202.0 1259.8 202.8 1258.9C203.9 1257.7 205.6 1253.0 206.6 1251.3C207.6 1249.5 210.4 1244.9 211.6 1243.8C212.3 1243.1 214.1 1242.0 214.8 1242.0C215.5 1242.0 217.1 1243.2 217.8 1243.8C218.9 1244.8 221.6 1248.6 222.9 1250.1C224.3 1251.7 227.5 1255.8 229.1 1257.1C230.5 1258.2 233.8 1260.0 235.4 1260.6C237.0 1261.2 241.2 1261.9 242.9 1262.1C244.4 1262.3 247.7 1262.0 249.2 1262.1C250.7 1262.3 253.8 1263.2 255.5 1263.4C257.9 1263.7 264.9 1264.2 268.0 1264.4C271.4 1264.6 279.6 1265.0 283.1 1265.2C286.6 1265.4 294.6 1266.3 298.1 1266.5C301.6 1266.7 309.7 1267.1 313.2 1267.2C316.7 1267.3 324.9 1267.6 328.2 1267.7C331.1 1267.8 337.8 1268.3 340.0 1268.3C341.4 1268.3 344.1 1268.4 345.1 1268.0C346.0 1267.6 347.5 1266.2 348.1 1265.4C348.8 1264.4 349.8 1261.3 350.2 1259.8C350.8 1257.8 351.7 1252.1 352.2 1249.7C352.7 1247.3 353.7 1241.8 354.2 1239.5C354.7 1237.3 355.8 1232.4 356.3 1230.3C356.8 1228.3 357.6 1223.7 358.3 1222.2C358.8 1221.0 360.3 1218.7 360.9 1218.1C361.3 1217.7 362.4 1216.9 362.9 1216.9C363.4 1216.9 364.5 1218.0 364.9 1218.6C365.5 1219.5 366.5 1222.8 367.0 1224.2C367.6 1225.8 368.9 1229.7 369.5 1231.4C370.1 1233.2 371.4 1237.6 372.0 1239.5C372.7 1241.4 374.3 1245.9 375.1 1247.6C375.8 1249.1 377.8 1252.0 378.7 1253.2C379.6 1254.4 381.7 1256.8 382.7 1257.8C383.8 1258.8 386.5 1261.2 387.8 1261.9C389.1 1262.6 392.5 1263.5 393.9 1263.9C395.3 1264.2 398.2 1264.7 400.0 1264.9C402.8 1265.3 411.6 1266.1 416.0 1266.5C422.5 1267.0 443.5 1268.1 450.0 1268.6C454.5 1268.9 461.0 1269.8 466.3 1270.0C478.4 1270.5 551.7 1270.0 551.7 1270.0" fill="none" stroke="#333333" stroke-width="1.15" stroke-linejoin="round"/>
<path d="M124.5 1312.6C124.5 1312.6 132.4 1311.7 135.1 1311.4C138.3 1311.1 146.8 1310.4 150.1 1309.9C153.2 1309.5 159.0 1307.9 162.6 1307.6C168.1 1307.1 188.2 1307.2 192.8 1307.6C195.0 1307.8 198.6 1309.3 199.8 1308.9C200.8 1308.6 202.1 1306.6 202.8 1305.6C203.7 1304.3 205.7 1299.8 206.6 1298.1C207.5 1296.3 209.8 1291.6 210.8 1290.5C211.4 1289.9 212.6 1288.9 213.3 1288.8C214.0 1288.6 215.9 1288.8 216.6 1289.3C217.6 1290.0 219.4 1294.1 220.4 1295.6C221.5 1297.3 224.1 1301.6 225.4 1303.1C226.5 1304.4 229.0 1306.9 230.4 1307.6C231.9 1308.4 236.0 1309.1 237.9 1309.4C240.1 1309.8 245.2 1310.3 248.0 1310.6C251.9 1311.0 263.3 1311.6 268.0 1312.0C272.7 1312.4 283.4 1313.7 288.1 1314.0C292.8 1314.3 303.4 1314.5 308.1 1314.7C312.8 1314.9 324.1 1315.4 328.2 1315.7C331.3 1315.9 337.8 1316.6 340.0 1316.6C341.4 1316.6 344.1 1316.7 345.1 1316.3C346.0 1316.0 347.5 1314.6 348.1 1313.8C348.8 1312.8 349.8 1309.2 350.2 1307.7C350.7 1305.9 351.3 1301.6 351.7 1299.5C352.1 1296.9 353.2 1290.0 353.7 1287.3C354.2 1284.8 355.3 1279.3 355.8 1277.1C356.2 1275.3 357.2 1271.3 357.8 1270.0C358.2 1269.0 359.3 1267.0 359.8 1266.5C360.2 1266.1 361.2 1265.4 361.6 1265.4C362.1 1265.4 363.4 1266.5 363.9 1267.0C364.4 1267.6 365.5 1269.2 365.9 1270.0C366.4 1271.0 367.5 1273.8 368.0 1275.1C368.6 1276.8 369.9 1281.3 370.5 1283.2C371.1 1285.1 372.5 1289.6 373.1 1291.4C373.7 1292.9 374.9 1296.2 375.6 1297.5C376.2 1298.8 377.9 1301.5 378.7 1302.6C379.5 1303.6 381.7 1305.7 382.7 1306.6C383.8 1307.5 386.5 1309.5 387.8 1310.2C389.1 1310.9 392.5 1311.9 393.9 1312.2C395.3 1312.5 398.5 1312.5 400.0 1312.7C401.7 1312.9 406.1 1313.7 408.0 1314.0C409.9 1314.3 413.5 1314.9 416.0 1315.2C421.2 1315.7 442.4 1316.6 450.0 1317.0C456.9 1317.4 470.3 1318.2 478.5 1318.4C491.5 1318.7 551.1 1318.4 551.1 1318.4" fill="none" stroke="#333333" stroke-width="1.15" stroke-linejoin="round"/>
<path d="M125.0 1362.4C125.0 1362.4 148.8 1362.9 152.6 1362.4C154.3 1362.2 156.2 1361.4 157.6 1361.1C159.5 1360.7 165.2 1359.7 167.7 1359.4C170.5 1359.0 177.4 1358.1 180.2 1358.1C182.7 1358.1 187.7 1358.8 190.2 1358.9C193.0 1359.1 200.8 1360.0 202.8 1359.4C204.0 1359.1 205.8 1357.8 206.6 1356.9C207.8 1355.6 209.7 1350.0 210.8 1348.1C211.8 1346.3 214.2 1342.0 215.3 1341.0C216.0 1340.3 217.6 1339.3 218.3 1339.3C219.0 1339.3 220.8 1340.4 221.6 1341.0C222.7 1341.9 225.5 1345.4 226.6 1346.8C227.8 1348.3 230.2 1352.5 231.6 1353.8C232.9 1355.0 236.2 1356.9 237.9 1357.6C239.9 1358.4 245.6 1359.6 248.0 1359.9C250.3 1360.2 255.7 1360.4 258.0 1360.6C260.3 1360.8 265.3 1361.2 268.0 1361.4C271.9 1361.7 283.4 1362.8 288.1 1363.2C292.8 1363.6 303.4 1364.3 308.1 1364.5C312.8 1364.7 323.4 1365.0 328.2 1365.2C333.2 1365.4 347.9 1367.2 350.2 1366.0C351.1 1365.5 351.8 1363.8 352.2 1362.9C352.8 1361.5 353.7 1356.8 354.2 1354.8C354.7 1352.7 355.8 1347.9 356.3 1345.6C356.9 1343.1 358.2 1336.8 358.8 1334.4C359.3 1332.4 360.4 1328.1 360.9 1326.3C361.4 1324.6 362.3 1320.6 362.9 1319.2C363.3 1318.2 364.3 1316.1 364.9 1315.6C365.4 1315.2 367.0 1314.9 367.5 1315.1C368.2 1315.4 369.0 1318.1 369.5 1319.2C370.1 1320.8 371.4 1325.4 372.0 1327.3C372.7 1329.4 374.3 1334.3 375.1 1336.4C375.9 1338.4 377.8 1342.8 378.7 1344.6C379.6 1346.3 381.6 1350.2 382.7 1351.7C383.7 1353.1 386.5 1356.3 387.8 1357.3C389.1 1358.3 392.4 1359.9 393.9 1360.4C395.3 1360.9 398.6 1361.3 400.0 1361.6C401.4 1361.9 404.4 1362.9 406.0 1363.2C408.0 1363.6 413.0 1364.4 416.0 1364.7C421.6 1365.2 443.3 1365.7 450.0 1366.2C454.9 1366.6 462.5 1367.9 468.3 1368.2C480.6 1368.9 550.7 1368.2 550.7 1368.2" fill="none" stroke="#333333" stroke-width="1.15" stroke-linejoin="round"/>
<path d="M123.0 1410.7C123.0 1410.7 125.4 1408.4 126.3 1407.7C127.3 1406.9 130.0 1405.2 131.3 1404.7C132.6 1404.2 135.8 1403.5 137.6 1403.2C140.3 1402.8 149.7 1402.5 152.6 1402.2C154.7 1402.0 158.2 1401.6 160.1 1401.4C162.3 1401.2 167.8 1400.3 170.2 1400.2C172.5 1400.1 177.7 1400.5 180.2 1400.7C183.0 1400.9 189.9 1402.0 192.8 1402.2C195.7 1402.4 203.6 1403.8 205.3 1402.7C206.5 1401.9 207.2 1398.2 207.8 1396.4C208.7 1393.7 210.7 1384.6 211.6 1381.3C212.4 1378.2 214.2 1371.0 215.3 1368.8C216.1 1367.3 218.3 1363.9 219.1 1363.8C219.7 1363.8 221.1 1365.4 221.6 1366.3C222.6 1367.9 224.4 1374.9 225.4 1377.6C226.5 1380.5 229.1 1387.5 230.4 1390.1C231.5 1392.4 233.9 1397.5 235.4 1398.9C236.6 1400.1 240.2 1401.4 241.7 1401.9C243.1 1402.4 246.5 1402.9 248.0 1403.2C249.7 1403.5 253.9 1404.5 255.5 1404.7C256.8 1404.8 259.4 1404.8 260.5 1404.7C261.6 1404.6 263.9 1404.1 265.0 1403.9C266.1 1403.7 268.8 1402.7 270.0 1402.6C271.2 1402.5 273.7 1403.1 275.1 1403.4C277.1 1403.8 282.5 1405.4 285.1 1405.9C288.2 1406.6 296.3 1407.9 300.1 1408.4C304.4 1409.0 315.8 1410.4 320.2 1410.9C324.0 1411.3 332.2 1412.2 335.3 1412.6C337.8 1412.9 342.8 1414.0 345.1 1414.2C347.3 1414.4 352.9 1414.7 354.2 1414.0C355.0 1413.5 355.8 1411.6 356.3 1410.7C356.9 1409.6 358.2 1406.4 358.8 1405.1C359.4 1403.8 360.8 1400.9 361.4 1399.5C362.1 1398.0 363.6 1394.1 364.4 1392.9C365.0 1392.0 366.3 1390.4 367.0 1389.9C367.5 1389.5 368.9 1388.8 369.5 1388.8C370.1 1388.8 371.4 1389.9 372.0 1390.4C372.7 1391.1 374.4 1393.4 375.1 1394.4C375.9 1395.5 377.8 1398.4 378.7 1399.5C379.6 1400.5 381.7 1402.7 382.7 1403.6C383.8 1404.5 386.5 1406.4 387.8 1407.1C389.1 1407.8 392.5 1409.3 393.9 1409.7C395.3 1410.1 398.5 1410.6 400.0 1410.7C401.7 1410.9 405.5 1410.8 408.0 1410.9C413.0 1411.2 432.9 1412.9 440.0 1413.7C446.5 1414.4 458.5 1416.5 466.4 1417.0C480.6 1417.9 551.3 1417.0 551.3 1417.0" fill="none" stroke="#333333" stroke-width="1.15" stroke-linejoin="round"/>
<path d="M122.5 1463.6C122.5 1463.6 126.9 1460.9 128.0 1460.4C128.8 1460.0 130.2 1459.5 131.0 1459.3C132.0 1459.0 134.5 1458.6 136.0 1458.5C138.7 1458.3 150.3 1458.8 152.1 1458.4C152.7 1458.3 153.2 1457.8 153.8 1457.6C155.0 1457.2 160.0 1456.7 161.9 1456.4C163.9 1456.0 168.2 1454.9 170.7 1454.6C174.7 1454.2 188.6 1454.6 193.3 1454.6C197.1 1454.6 205.6 1455.8 207.8 1454.6C209.5 1453.7 211.1 1449.4 212.1 1447.6C213.1 1445.7 215.2 1440.5 216.3 1438.8C217.2 1437.4 219.3 1434.1 220.4 1433.8C221.3 1433.6 223.7 1434.8 224.6 1435.5C225.9 1436.5 228.4 1440.9 229.6 1442.6C230.9 1444.3 233.9 1448.7 235.4 1450.1C236.8 1451.4 240.3 1453.8 242.2 1454.6C244.4 1455.5 250.8 1456.5 253.5 1456.9C256.3 1457.3 263.0 1457.3 266.0 1457.6C269.2 1457.9 276.5 1459.3 280.1 1459.7C284.4 1460.2 295.4 1460.7 300.1 1461.0C304.8 1461.3 315.5 1461.9 320.2 1462.2C324.9 1462.5 336.2 1463.0 340.3 1463.2C343.4 1463.4 350.5 1464.6 352.2 1463.8C353.2 1463.3 354.3 1461.4 354.8 1460.4C355.4 1459.2 355.9 1455.5 356.3 1453.8C356.7 1451.8 357.8 1446.9 358.3 1444.7C358.8 1442.4 359.8 1436.8 360.3 1434.5C360.8 1432.3 361.9 1427.4 362.4 1425.3C362.9 1423.3 364.2 1418.2 364.9 1416.7C365.3 1415.8 366.4 1414.0 367.0 1413.6C367.4 1413.3 368.6 1413.1 369.0 1413.3C369.6 1413.5 370.6 1415.4 371.0 1416.2C371.6 1417.3 372.6 1420.8 373.1 1422.3C373.7 1424.1 375.0 1428.5 375.6 1430.4C376.3 1432.3 378.0 1436.8 378.7 1438.6C379.4 1440.3 380.9 1444.1 381.7 1445.7C382.5 1447.2 384.7 1450.6 385.8 1451.8C386.9 1452.9 389.6 1455.1 390.9 1455.9C392.2 1456.7 395.8 1458.0 397.0 1458.4C397.9 1458.7 399.5 1459.2 400.5 1459.4C401.9 1459.7 405.6 1460.0 408.0 1460.2C412.9 1460.7 432.9 1462.5 440.0 1463.3C446.5 1464.0 458.5 1466.1 466.4 1466.6C480.6 1467.5 551.3 1466.6 551.3 1466.6" fill="none" stroke="#333333" stroke-width="1.15" stroke-linejoin="round"/>
<path d="M125.1 1506.4C125.1 1506.4 130.7 1505.7 132.6 1505.7C134.8 1505.7 140.4 1506.3 142.6 1506.4C144.5 1506.5 148.4 1506.6 150.1 1506.4C151.9 1506.2 155.9 1505.2 157.7 1504.7C159.5 1504.2 163.4 1502.6 165.2 1502.2C166.9 1501.8 171.0 1501.0 172.7 1500.9C174.2 1500.8 177.5 1501.2 179.0 1501.4C180.5 1501.6 183.6 1502.4 185.3 1502.7C187.7 1503.1 195.4 1503.8 197.8 1503.9C199.5 1504.0 203.0 1504.4 204.1 1503.9C205.1 1503.4 206.7 1501.4 207.3 1500.2C208.2 1498.5 209.7 1492.8 210.4 1490.1C211.3 1486.6 213.1 1476.0 214.1 1472.6C214.9 1470.0 216.8 1464.1 217.9 1463.0C218.4 1462.5 219.9 1461.8 220.4 1462.0C221.4 1462.4 223.3 1468.1 224.1 1470.1C225.0 1472.3 226.9 1477.7 227.9 1480.1C229.0 1482.7 231.5 1489.0 232.9 1491.4C234.2 1493.7 237.5 1498.7 239.2 1500.2C240.7 1501.5 244.7 1503.3 246.7 1503.9C249.0 1504.7 255.2 1505.4 258.0 1505.9C261.3 1506.4 269.2 1507.7 273.1 1508.1C277.8 1508.6 290.2 1509.0 295.6 1509.4C301.3 1509.8 314.2 1511.0 320.7 1511.4C328.6 1511.9 350.5 1513.1 358.4 1513.4C364.8 1513.6 379.8 1513.6 383.4 1513.9C385.0 1514.0 386.9 1514.5 388.5 1514.6C391.4 1514.8 402.0 1515.0 406.0 1515.1C409.9 1515.2 422.5 1515.6 422.5 1515.6" fill="none" stroke="#333333" stroke-width="1.15" stroke-linejoin="round"/>
<line x1="365.0" y1="1201.0" x2="365.0" y2="1517.5" stroke="#5a9142" stroke-width="1.7" stroke-dasharray="6.2 5.38"/>
<path d="M131.00 1517.0V1520.8M139.46 1517.0V1520.8M147.91 1517.0V1520.8M156.37 1517.0V1520.8M164.82 1517.0V1523.8M173.28 1517.0V1520.8M181.74 1517.0V1520.8M190.19 1517.0V1520.8M198.65 1517.0V1520.8M207.10 1517.0V1523.8M215.55 1517.0V1520.8M224.01 1517.0V1520.8M232.46 1517.0V1520.8M240.92 1517.0V1520.8M249.38 1517.0V1523.8M257.83 1517.0V1520.8M266.29 1517.0V1520.8M274.74 1517.0V1520.8M283.20 1517.0V1520.8M291.65 1517.0V1523.8M300.10 1517.0V1520.8M308.56 1517.0V1520.8M317.02 1517.0V1520.8M325.47 1517.0V1520.8M333.92 1517.0V1523.8M342.38 1517.0V1520.8M350.84 1517.0V1520.8M359.29 1517.0V1520.8M367.75 1517.0V1520.8M376.20 1517.0V1523.8M384.65 1517.0V1520.8M393.11 1517.0V1520.8M401.57 1517.0V1520.8M410.02 1517.0V1520.8M418.48 1517.0V1523.8M426.93 1517.0V1520.8M435.38 1517.0V1520.8M443.84 1517.0V1520.8M452.30 1517.0V1520.8M460.75 1517.0V1523.8M469.21 1517.0V1520.8M477.66 1517.0V1520.8M486.12 1517.0V1520.8M494.57 1517.0V1520.8M503.02 1517.0V1523.8M511.48 1517.0V1520.8M519.93 1517.0V1520.8M528.39 1517.0V1520.8M536.85 1517.0V1520.8M545.30 1517.0V1523.8M122.0 1462.90H116.5M122.0 1480.90H116.5M122.0 1497.80H116.5M122.0 1515.40H116.5M122.0 1466.50H119.5M122.0 1470.10H119.5M122.0 1473.70H119.5M122.0 1477.30H119.5M122.0 1484.28H119.5M122.0 1487.66H119.5M122.0 1491.04H119.5M122.0 1494.42H119.5M122.0 1501.32H119.5M122.0 1504.84H119.5M122.0 1508.36H119.5M122.0 1511.88H119.5" stroke="#000" stroke-width="1.05" fill="none"/>
<path d="M122.0 1462.0V1517.0H551.9" stroke="#000" stroke-width="2.00" fill="none"/>
<text x="72.23" y="1485.15" font-size="13.62" fill="#1e1e28" textLength="42.04" lengthAdjust="spacingAndGlyphs">2.5e+1</text>
<text x="95.18" y="1519.75" font-size="13.62" fill="#1e1e28" textLength="18.93" lengthAdjust="spacingAndGlyphs">0.0</text>
<text x="193.77" y="1535.55" font-size="13.62" fill="#1e1e28" textLength="26.51" lengthAdjust="spacingAndGlyphs">2.50</text>
<text x="278.40" y="1535.55" font-size="13.62" fill="#1e1e28" textLength="26.51" lengthAdjust="spacingAndGlyphs">3.00</text>
<text x="362.95" y="1535.55" font-size="13.62" fill="#1e1e28" textLength="26.51" lengthAdjust="spacingAndGlyphs">3.50</text>
<text x="447.61" y="1535.55" font-size="13.62" fill="#1e1e28" textLength="26.51" lengthAdjust="spacingAndGlyphs">4.00</text>
<text x="532.16" y="1535.55" font-size="13.62" fill="#1e1e28" textLength="26.51" lengthAdjust="spacingAndGlyphs">4.50</text>
<text x="559.00" y="1521.90" font-size="13.38" fill="#1e1e28" textLength="29.58" lengthAdjust="spacingAndGlyphs">Time</text>
<text x="1.27" y="1159.80" font-size="32.44" fill="#000" textLength="24.74" lengthAdjust="spacingAndGlyphs">D</text>
<text x="210.36" y="1193.30" font-size="28.53" fill="#ff0000" textLength="13.93" lengthAdjust="spacingAndGlyphs">3</text>
<text x="357.75" y="1193.30" font-size="28.95" fill="#4d8630" textLength="14.64" lengthAdjust="spacingAndGlyphs">5</text>
<text x="472.06" y="1259.00" font-size="15.72" fill="#141414" textLength="84.74" lengthAdjust="spacingAndGlyphs">H235A PksI</text>
<text x="467.98" y="1313.30" font-size="16.00" fill="#141414" textLength="82.70" lengthAdjust="spacingAndGlyphs">K232A PksI</text>
<text x="475.09" y="1363.10" font-size="16.00" fill="#141414" textLength="72.99" lengthAdjust="spacingAndGlyphs">K80A PksI</text>
<text x="469.98" y="1410.90" font-size="15.86" fill="#141414" textLength="83.91" lengthAdjust="spacingAndGlyphs">H230A PksI</text>
<text x="458.02" y="1459.80" font-size="15.86" fill="#141414" textLength="104.70" lengthAdjust="spacingAndGlyphs">Wild-type PksI</text>
<text x="461.75" y="1505.20" font-size="15.72" fill="#141414" textLength="99.40" lengthAdjust="spacingAndGlyphs">HMG-CoA (<tspan fill="#ff0000">3</tspan>)</text>
<path d="M127.7 422.3V430.8M123.7 424.5L131.9 429.3M123.7 429.3L131.9 424.5" stroke="#000" stroke-width="1.8" stroke-linecap="round" fill="none"/>
</svg>
</body></html>
